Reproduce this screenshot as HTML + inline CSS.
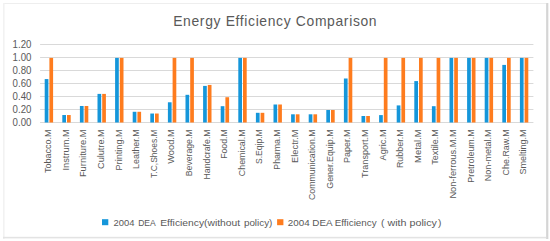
<!DOCTYPE html>
<html><head><meta charset="utf-8"><style>
html,body{margin:0;padding:0;background:#fff;}
body{width:550px;height:241px;overflow:hidden;position:relative;font-family:"Liberation Sans",sans-serif;}
svg{position:absolute;left:0;top:0;}
text{font-family:"Liberation Sans",sans-serif;fill:#595959;}
.yl{font-size:10.2px;}
.xl{font-size:9.5px;}
.t{font-size:13.9px;}
.lg{font-size:9.8px;}
</style></head><body>
<svg width="550" height="241" viewBox="0 0 550 241">
<rect x="3" y="3" width="545" height="1" fill="#eeeeee"/>
<rect x="3" y="3" width="1.6" height="236" fill="#f2f2f2"/>
<rect x="3" y="236.8" width="545" height="1.6" fill="#e3e3e3"/>
<rect x="546" y="3" width="2.4" height="236" fill="#dddddd"/>
<rect x="546.8" y="3" width="0.9" height="236" fill="#d2d2d2"/>
<text x="173.2" y="25.6" class="t" textLength="203.4" lengthAdjust="spacing">Energy Efficiency Comparison</text>
<line x1="40.10" y1="122.50" x2="533.4" y2="122.50" stroke="#d9d9d9" stroke-width="1"/>
<line x1="40.10" y1="109.50" x2="533.4" y2="109.50" stroke="#d9d9d9" stroke-width="1"/>
<line x1="40.10" y1="96.50" x2="533.4" y2="96.50" stroke="#d9d9d9" stroke-width="1"/>
<line x1="40.10" y1="83.50" x2="533.4" y2="83.50" stroke="#d9d9d9" stroke-width="1"/>
<line x1="40.10" y1="70.50" x2="533.4" y2="70.50" stroke="#d9d9d9" stroke-width="1"/>
<line x1="40.10" y1="57.50" x2="533.4" y2="57.50" stroke="#d9d9d9" stroke-width="1"/>
<line x1="40.10" y1="44.50" x2="533.4" y2="44.50" stroke="#d9d9d9" stroke-width="1"/>
<text x="12.6" y="126.10" class="yl" textLength="18.8" lengthAdjust="spacingAndGlyphs">0.00</text>
<text x="12.6" y="113.10" class="yl" textLength="18.8" lengthAdjust="spacingAndGlyphs">0.20</text>
<text x="12.6" y="100.10" class="yl" textLength="18.8" lengthAdjust="spacingAndGlyphs">0.40</text>
<text x="12.6" y="87.10" class="yl" textLength="18.8" lengthAdjust="spacingAndGlyphs">0.60</text>
<text x="12.6" y="74.10" class="yl" textLength="18.8" lengthAdjust="spacingAndGlyphs">0.80</text>
<text x="12.6" y="61.10" class="yl" textLength="18.8" lengthAdjust="spacingAndGlyphs">1.00</text>
<text x="12.6" y="48.10" class="yl" textLength="18.8" lengthAdjust="spacingAndGlyphs">1.20</text>
<rect x="44.70" y="79.08" width="3.70" height="43.42" fill="#1596da"/>
<rect x="49.40" y="57.89" width="3.70" height="64.61" fill="#fe7c1e"/>
<rect x="62.30" y="115.03" width="3.70" height="7.48" fill="#1596da"/>
<rect x="67.00" y="115.03" width="3.70" height="7.48" fill="#fe7c1e"/>
<rect x="79.90" y="105.99" width="3.70" height="16.51" fill="#1596da"/>
<rect x="84.60" y="105.99" width="3.70" height="16.51" fill="#fe7c1e"/>
<rect x="97.50" y="93.90" width="3.70" height="28.60" fill="#1596da"/>
<rect x="102.20" y="93.90" width="3.70" height="28.60" fill="#fe7c1e"/>
<rect x="115.10" y="57.89" width="3.70" height="64.61" fill="#1596da"/>
<rect x="119.80" y="57.89" width="3.70" height="64.61" fill="#fe7c1e"/>
<rect x="132.70" y="111.78" width="3.70" height="10.72" fill="#1596da"/>
<rect x="137.40" y="111.78" width="3.70" height="10.72" fill="#fe7c1e"/>
<rect x="150.30" y="113.53" width="3.70" height="8.97" fill="#1596da"/>
<rect x="155.00" y="113.53" width="3.70" height="8.97" fill="#fe7c1e"/>
<rect x="167.90" y="102.28" width="3.70" height="20.21" fill="#1596da"/>
<rect x="172.60" y="57.89" width="3.70" height="64.61" fill="#fe7c1e"/>
<rect x="185.50" y="94.81" width="3.70" height="27.69" fill="#1596da"/>
<rect x="190.20" y="57.89" width="3.70" height="64.61" fill="#fe7c1e"/>
<rect x="203.10" y="85.91" width="3.70" height="36.59" fill="#1596da"/>
<rect x="207.80" y="84.93" width="3.70" height="37.57" fill="#fe7c1e"/>
<rect x="220.70" y="106.19" width="3.70" height="16.32" fill="#1596da"/>
<rect x="225.40" y="97.22" width="3.70" height="25.29" fill="#fe7c1e"/>
<rect x="238.30" y="57.89" width="3.70" height="64.61" fill="#1596da"/>
<rect x="243.00" y="57.89" width="3.70" height="64.61" fill="#fe7c1e"/>
<rect x="255.90" y="112.81" width="3.70" height="9.68" fill="#1596da"/>
<rect x="260.60" y="112.81" width="3.70" height="9.68" fill="#fe7c1e"/>
<rect x="273.50" y="104.50" width="3.70" height="18.01" fill="#1596da"/>
<rect x="278.20" y="104.50" width="3.70" height="18.01" fill="#fe7c1e"/>
<rect x="291.10" y="114.31" width="3.70" height="8.19" fill="#1596da"/>
<rect x="295.80" y="114.31" width="3.70" height="8.19" fill="#fe7c1e"/>
<rect x="308.70" y="114.31" width="3.70" height="8.19" fill="#1596da"/>
<rect x="313.40" y="114.31" width="3.70" height="8.19" fill="#fe7c1e"/>
<rect x="326.30" y="110.02" width="3.70" height="12.48" fill="#1596da"/>
<rect x="331.00" y="110.02" width="3.70" height="12.48" fill="#fe7c1e"/>
<rect x="343.90" y="78.50" width="3.70" height="44.01" fill="#1596da"/>
<rect x="348.60" y="57.89" width="3.70" height="64.61" fill="#fe7c1e"/>
<rect x="361.50" y="116.00" width="3.70" height="6.50" fill="#1596da"/>
<rect x="366.20" y="116.00" width="3.70" height="6.50" fill="#fe7c1e"/>
<rect x="379.10" y="115.09" width="3.70" height="7.41" fill="#1596da"/>
<rect x="383.80" y="57.89" width="3.70" height="64.61" fill="#fe7c1e"/>
<rect x="396.70" y="105.41" width="3.70" height="17.10" fill="#1596da"/>
<rect x="401.40" y="57.89" width="3.70" height="64.61" fill="#fe7c1e"/>
<rect x="414.30" y="81.09" width="3.70" height="41.41" fill="#1596da"/>
<rect x="419.00" y="57.89" width="3.70" height="64.61" fill="#fe7c1e"/>
<rect x="431.90" y="106.19" width="3.70" height="16.32" fill="#1596da"/>
<rect x="436.60" y="57.89" width="3.70" height="64.61" fill="#fe7c1e"/>
<rect x="449.50" y="57.89" width="3.70" height="64.61" fill="#1596da"/>
<rect x="454.20" y="57.89" width="3.70" height="64.61" fill="#fe7c1e"/>
<rect x="467.10" y="57.89" width="3.70" height="64.61" fill="#1596da"/>
<rect x="471.80" y="57.89" width="3.70" height="64.61" fill="#fe7c1e"/>
<rect x="484.70" y="57.89" width="3.70" height="64.61" fill="#1596da"/>
<rect x="489.40" y="57.89" width="3.70" height="64.61" fill="#fe7c1e"/>
<rect x="502.30" y="64.91" width="3.70" height="57.59" fill="#1596da"/>
<rect x="507.00" y="57.89" width="3.70" height="64.61" fill="#fe7c1e"/>
<rect x="519.90" y="57.89" width="3.70" height="64.61" fill="#1596da"/>
<rect x="524.60" y="57.89" width="3.70" height="64.61" fill="#fe7c1e"/>
<text transform="translate(51.10,129.4) rotate(-90)" text-anchor="end" class="xl" textLength="43.6" lengthAdjust="spacingAndGlyphs">Tobacco.M</text>
<text transform="translate(68.70,129.4) rotate(-90)" text-anchor="end" class="xl" textLength="41.1" lengthAdjust="spacingAndGlyphs">Instrum.M</text>
<text transform="translate(86.30,129.4) rotate(-90)" text-anchor="end" class="xl" textLength="47.7" lengthAdjust="spacingAndGlyphs">Furniture.M</text>
<text transform="translate(103.90,129.4) rotate(-90)" text-anchor="end" class="xl" textLength="39.5" lengthAdjust="spacingAndGlyphs">Culutre.M</text>
<text transform="translate(121.50,129.4) rotate(-90)" text-anchor="end" class="xl" textLength="41.1" lengthAdjust="spacingAndGlyphs">Printing.M</text>
<text transform="translate(139.10,129.4) rotate(-90)" text-anchor="end" class="xl" textLength="39.5" lengthAdjust="spacingAndGlyphs">Leather.M</text>
<text transform="translate(156.70,129.4) rotate(-90)" text-anchor="end" class="xl" textLength="48.5" lengthAdjust="spacingAndGlyphs">T.C,Shoes.M</text>
<text transform="translate(174.30,129.4) rotate(-90)" text-anchor="end" class="xl" textLength="34.3" lengthAdjust="spacingAndGlyphs">Wood.M</text>
<text transform="translate(191.90,129.4) rotate(-90)" text-anchor="end" class="xl" textLength="46.8" lengthAdjust="spacingAndGlyphs">Beverage.M</text>
<text transform="translate(209.50,129.4) rotate(-90)" text-anchor="end" class="xl" textLength="50.1" lengthAdjust="spacingAndGlyphs">Handcrafe.M</text>
<text transform="translate(227.10,129.4) rotate(-90)" text-anchor="end" class="xl" textLength="29.4" lengthAdjust="spacingAndGlyphs">Food.M</text>
<text transform="translate(244.70,129.4) rotate(-90)" text-anchor="end" class="xl" textLength="46.8" lengthAdjust="spacingAndGlyphs">Chemical.M</text>
<text transform="translate(262.30,129.4) rotate(-90)" text-anchor="end" class="xl" textLength="34.6" lengthAdjust="spacingAndGlyphs">S.Eqip.M</text>
<text transform="translate(279.90,129.4) rotate(-90)" text-anchor="end" class="xl" textLength="40.3" lengthAdjust="spacingAndGlyphs">Pharma.M</text>
<text transform="translate(297.50,129.4) rotate(-90)" text-anchor="end" class="xl" textLength="33.5" lengthAdjust="spacingAndGlyphs">Electr.M</text>
<text transform="translate(315.10,129.4) rotate(-90)" text-anchor="end" class="xl" textLength="70.6" lengthAdjust="spacingAndGlyphs">Communication.M</text>
<text transform="translate(332.70,129.4) rotate(-90)" text-anchor="end" class="xl" textLength="59.4" lengthAdjust="spacingAndGlyphs">Gener.Equip.M</text>
<text transform="translate(350.30,129.4) rotate(-90)" text-anchor="end" class="xl" textLength="33.5" lengthAdjust="spacingAndGlyphs">Paper.M</text>
<text transform="translate(367.90,129.4) rotate(-90)" text-anchor="end" class="xl" textLength="48.5" lengthAdjust="spacingAndGlyphs">Transport.M</text>
<text transform="translate(385.50,129.4) rotate(-90)" text-anchor="end" class="xl" textLength="31.0" lengthAdjust="spacingAndGlyphs">Agric.M</text>
<text transform="translate(403.10,129.4) rotate(-90)" text-anchor="end" class="xl" textLength="38.7" lengthAdjust="spacingAndGlyphs">Rubber.M</text>
<text transform="translate(420.70,129.4) rotate(-90)" text-anchor="end" class="xl" textLength="33.5" lengthAdjust="spacingAndGlyphs">Metal.M</text>
<text transform="translate(438.30,129.4) rotate(-90)" text-anchor="end" class="xl" textLength="35.4" lengthAdjust="spacingAndGlyphs">Textile.M</text>
<text transform="translate(455.90,129.4) rotate(-90)" text-anchor="end" class="xl" textLength="69.2" lengthAdjust="spacingAndGlyphs">Non-ferrous.M.M</text>
<text transform="translate(473.50,129.4) rotate(-90)" text-anchor="end" class="xl" textLength="53.3" lengthAdjust="spacingAndGlyphs">Pretroleum.M</text>
<text transform="translate(491.10,129.4) rotate(-90)" text-anchor="end" class="xl" textLength="51.8" lengthAdjust="spacingAndGlyphs">Non-metal.M</text>
<text transform="translate(508.70,129.4) rotate(-90)" text-anchor="end" class="xl" textLength="46.0" lengthAdjust="spacingAndGlyphs">Che.Raw.M</text>
<text transform="translate(526.30,129.4) rotate(-90)" text-anchor="end" class="xl" textLength="45.2" lengthAdjust="spacingAndGlyphs">Smelting.M</text>
<rect x="102" y="219.2" width="6.3" height="6" fill="#1596da"/>
<text x="113.5" y="225.5" class="lg" textLength="20.9" lengthAdjust="spacingAndGlyphs">2004</text>
<text x="138.2" y="225.5" class="lg" textLength="17.6" lengthAdjust="spacingAndGlyphs">DEA</text>
<text x="160.2" y="225.5" class="lg" textLength="80.0" lengthAdjust="spacingAndGlyphs">Efficiency(without</text>
<text x="243.9" y="225.5" class="lg" textLength="28.5" lengthAdjust="spacingAndGlyphs">policy)</text>
<rect x="277.1" y="219.2" width="6.3" height="6" fill="#fe7c1e"/>
<text x="287.8" y="225.5" class="lg" textLength="88.8" lengthAdjust="spacingAndGlyphs">2004 DEA Efficiency</text>
<text x="381.0" y="225.5" class="lg" textLength="3.4" lengthAdjust="spacingAndGlyphs">(</text>
<text x="387.5" y="225.5" class="lg" textLength="49.4" lengthAdjust="spacingAndGlyphs">with policy</text>
<text x="438.0" y="225.5" class="lg" textLength="3.4" lengthAdjust="spacingAndGlyphs">)</text>
</svg>
</body></html>
